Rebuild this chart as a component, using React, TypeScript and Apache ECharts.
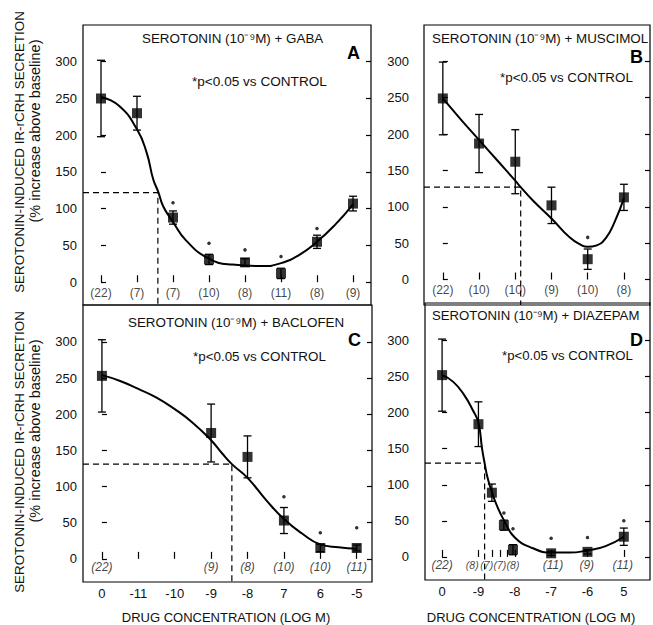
import React, { useEffect, useRef } from 'react';
import * as echarts from 'echarts';

const FONT = '"Liberation Sans", Arial, Helvetica, sans-serif';

// ---------- Panel A : GABA ----------
const aPos = [0, 1, 2, 3, 4, 5, 6, 7];
const aMean = [250, 230, 88, 31, 27, 12, 55, 107];
const aSem = [52, 23, 9, 7, 5, 7, 9, 10];
const aStar = [null, null, 108, 53, 44, 35, 73, null];
const aN = ['(22)', '(7)', '(7)', '(10)', '(8)', '(11)', '(8)', '(9)'];
const aNPos = [0, 1, 2, 3, 4, 5, 6, 7];
const aNSize = [12, 12, 12, 12, 12, 12, 12, 12];
const aCurveX = [0, 0.5, 1, 1.27, 1.45, 1.59, 1.73, 2, 2.36, 3, 3.65, 4.5, 5, 5.5, 6, 6.5, 7];
const aCurveY = [252, 240, 208, 176, 140, 123, 103, 82, 57, 32, 24, 22, 26, 37, 55, 78, 106];
const aHalf = [1.58, 122];

// ---------- Panel B : MUSCIMOL ----------
const bPos = [0, 1, 2, 3, 4, 5];
const bMean = [249, 187, 162, 102, 28, 113];
const bSem = [50, 40, 44, 25, 14, 18];
const bStar = [null, null, null, null, 58, null];
const bN = ['(22)', '(10)', '(10)', '(9)', '(10)', '(8)'];
const bNPos = [0, 1, 2, 3, 4, 5];
const bNSize = [12, 12, 12, 12, 12, 12];
const bCurveX = [0, 0.5, 1, 1.5, 2, 2.15, 2.5, 3, 3.5, 3.8, 4, 4.25, 4.5, 4.75, 5];
const bCurveY = [249, 220, 192, 164, 136, 127, 108, 84, 58, 48, 45, 47, 57, 80, 112];
const bHalf = [2.15, 127];

// ---------- Panel C : BACLOFEN ----------
const cPos = [0, 3, 4, 5, 6, 7];
const cMean = [253, 174, 141, 53, 15, 15];
const cSem = [50, 40, 29, 18, 5, 4];
const cStar = [null, null, null, 86, 36, 43];
const cN = ['(22)', '(9)', '(8)', '(10)', '(10)', '(11)'];
const cNPos = [0, 3, 4, 5, 6, 7];
const cNSize = [12, 12, 12, 12, 12, 12];
const cCurveX = [0, 0.5, 1, 1.5, 2, 2.5, 3, 3.3, 3.57, 4, 4.5, 5, 5.5, 6, 6.5, 7];
const cCurveY = [254, 246, 235, 223, 207, 188, 164, 146, 131, 112, 82, 55, 35, 20, 16, 14];
const cHalf = [3.57, 131];
const cTicks = [0, 1, 2, 3, 4, 5, 6, 7];
const cTickLabels = ['0', '-11', '-10', '-9', '-8', '7', '6', '-5'];

// ---------- Panel D : DIAZEPAM ----------
const dPos = [0, 1, 1.37, 1.7, 1.95, 3, 4, 5];
const dMean = [252, 184, 89, 44, 10, 5, 7, 28];
const dSem = [50, 31, 12, 7, 7, 3, 3, 12];
const dStar = [null, null, null, 61, 39, 26, 27, 50];
const dN = ['(22)', '(8)', '(7)', '(7)', '(8)', '(11)', '(9)', '(11)'];
const dNPos = [0, 0.83, 1.23, 1.59, 1.95, 3.05, 3.98, 4.97];
const dNSize = [12, 10.5, 10.5, 10.5, 10.5, 12, 12, 12];
const dCurveX = [0, 0.3, 0.6, 0.85, 1, 1.1, 1.17, 1.25, 1.37, 1.5, 1.7, 2, 2.5, 3, 3.5, 4, 4.5, 5];
const dCurveY = [252, 243, 225, 203, 186, 150, 130, 110, 90, 72, 51, 27, 12, 6, 6, 9, 15, 28];
const dHalf = [1.17, 130];
const dTicks = [0, 1, 1.37, 1.59, 1.78, 2, 3, 4, 5];
const dLabelPos = [0, 1, 2, 3, 4, 5];
const dTickLabels = ['0', '-9', '-8', '-7', '-6', '5'];

const yTicks = [0, 50, 100, 150, 200, 250, 300];

type Panel = {
  pos: number[]; mean: number[]; sem: number[]; star: (number | null)[];
  n: string[]; nPos: number[]; nSize: number[]; curveX: number[]; curveY: number[]; half: number[];
  left: number; top: number; width: number; height: number;
  xMin: number; xMax: number; yMin: number; yMax: number;
  ticks: number[]; labelPos?: number[]; labels?: string[];
  yMargin: number; italic: boolean; nY: number;
};

const panels: Panel[] = [
  {
    pos: aPos, mean: aMean, sem: aSem, star: aStar, n: aN, nPos: aNPos, nSize: aNSize,
    curveX: aCurveX, curveY: aCurveY, half: aHalf,
    left: 83, top: 25, width: 288, height: 280,
    xMin: -0.5, xMax: 7.5, yMin: -31, yMax: 350,
    ticks: aPos, yMargin: 6, italic: false, nY: -14,
  },
  {
    pos: bPos, mean: bMean, sem: bSem, star: bStar, n: bN, nPos: bNPos, nSize: bNSize,
    curveX: bCurveX, curveY: bCurveY, half: bHalf,
    left: 424, top: 25, width: 226, height: 280,
    xMin: -0.52, xMax: 5.72, yMin: -35, yMax: 350,
    ticks: bPos, yMargin: 15, italic: false, nY: -15,
  },
  {
    pos: cPos, mean: cMean, sem: cSem, star: cStar, n: cN, nPos: cNPos, nSize: cNSize,
    curveX: cCurveX, curveY: cCurveY, half: cHalf,
    left: 83, top: 305, width: 289, height: 277,
    xMin: -0.52, xMax: 7.42, yMin: -32, yMax: 351,
    ticks: cTicks, labelPos: cTicks, labels: cTickLabels,
    yMargin: 6, italic: true, nY: -11,
  },
  {
    pos: dPos, mean: dMean, sem: dSem, star: dStar, n: dN, nPos: dNPos, nSize: dNSize,
    curveX: dCurveX, curveY: dCurveY, half: dHalf,
    left: 425, top: 303, width: 225, height: 277,
    xMin: -0.47, xMax: 5.72, yMin: -32, yMax: 352,
    ticks: dTicks, labelPos: dLabelPos, labels: dTickLabels,
    yMargin: 16, italic: true, nY: -11,
  },
];

const texts = [
  { t: 'SEROTONIN (10⁻⁹M) + GABA', x: 142, y: 38, s: 13.4 },
  { t: '*p<0.05 vs CONTROL', x: 192, y: 81, s: 13.6 },
  { t: 'SEROTONIN (10⁻⁹M) + MUSCIMOL', x: 432, y: 38, s: 13.4 },
  { t: '*p<0.05 vs CONTROL', x: 500, y: 77, s: 13.4 },
  { t: 'SEROTONIN (10⁻⁹M) + BACLOFEN', x: 128, y: 322, s: 13.4 },
  { t: '*p<0.05 vs CONTROL', x: 193, y: 356, s: 13.4 },
  { t: 'SEROTONIN (10⁻⁹M) + DIAZEPAM', x: 432, y: 315, s: 13.2 },
  { t: '*p<0.05 vs CONTROL', x: 502, y: 355, s: 13.2 },
];

const letters = [
  { t: 'A', x: 347, y: 53 },
  { t: 'B', x: 630, y: 57 },
  { t: 'C', x: 348, y: 340 },
  { t: 'D', x: 630, y: 340 },
];

export default function App() {
  const ref = useRef<HTMLDivElement>(null);
  useEffect(() => {
    if (!ref.current) return;
    const chart = echarts.init(ref.current, undefined, { renderer: 'svg' });

    const grid: any[] = [];
    const xAxis: any[] = [];
    const yAxis: any[] = [];
    const series: any[] = [];

    panels.forEach((p, i) => {
      grid.push({
        left: p.left, top: p.top, width: p.width, height: p.height,
        show: true, borderColor: '#000', borderWidth: 1.2, backgroundColor: 'transparent',
      });
      xAxis.push({
        type: 'value', gridIndex: i, min: p.xMin, max: p.xMax,
        axisLine: { show: false },
        splitLine: { show: false },
        axisTick: { show: true, inside: true, length: 7, customValues: p.ticks, lineStyle: { color: '#000', width: 1.2 } },
        axisLabel: p.labels
          ? {
              show: true, customValues: p.labelPos, margin: 5,
              fontFamily: FONT, fontSize: 13, color: '#111',
              formatter: (v: number) => {
                const k = (p.labelPos as number[]).findIndex((q) => Math.abs(q - v) < 1e-6);
                return k >= 0 ? (p.labels as string[])[k] : '';
              },
            }
          : { show: false },
      });
      yAxis.push({
        type: 'value', gridIndex: i, min: p.yMin, max: p.yMax,
        axisLine: { show: false }, splitLine: { show: false },
        axisTick: { show: true, inside: true, length: 5, customValues: yTicks, lineStyle: { color: '#000', width: 1.2 } },
        axisLabel: { show: true, customValues: yTicks, margin: p.yMargin, fontFamily: FONT, fontSize: 13, color: '#111' },
      });
      yAxis.push({
        type: 'value', gridIndex: i, min: p.yMin, max: p.yMax, position: 'right',
        axisLine: { show: false }, splitLine: { show: false },
        axisTick: { show: true, inside: true, length: 5, customValues: yTicks, lineStyle: { color: '#000', width: 1.2 } },
        axisLabel: { show: false },
      });
      const xi = i, yi = i * 2;
      series.push({
        type: 'line', xAxisIndex: xi, yAxisIndex: yi, smooth: true, symbol: 'none',
        data: p.curveX.map((x, k) => [x, p.curveY[k]]),
        lineStyle: { color: '#000', width: 2 }, z: 3,
      });
      series.push({
        type: 'line', xAxisIndex: xi, yAxisIndex: yi, symbol: 'none',
        data: [[p.xMin, p.half[1]], [p.half[0], p.half[1]], [p.half[0], p.yMin]],
        lineStyle: { color: '#000', width: 1.2, type: [6, 4] }, z: 2,
      });
      series.push({
        type: 'custom', xAxisIndex: xi, yAxisIndex: yi,
        data: p.pos.map((x, k) => [x, p.mean[k] - p.sem[k], p.mean[k] + p.sem[k]]),
        encode: { x: 0, y: [1, 2] },
        renderItem: (_params: any, api: any) => {
          const x = api.value(0);
          const lo = api.coord([x, api.value(1)]);
          const hi = api.coord([x, api.value(2)]);
          const w = 4;
          const st = { stroke: '#000', lineWidth: 1.3 };
          return {
            type: 'group',
            children: [
              { type: 'line', shape: { x1: lo[0], y1: lo[1], x2: hi[0], y2: hi[1] }, style: st },
              { type: 'line', shape: { x1: lo[0] - w, y1: lo[1], x2: lo[0] + w, y2: lo[1] }, style: st },
              { type: 'line', shape: { x1: hi[0] - w, y1: hi[1], x2: hi[0] + w, y2: hi[1] }, style: st },
            ],
          };
        },
        z: 4,
      });
      series.push({
        type: 'scatter', xAxisIndex: xi, yAxisIndex: yi, symbol: 'rect', symbolSize: 10,
        data: p.pos.map((x, k) => [x, p.mean[k]]),
        itemStyle: { color: '#000' }, z: 5,
      });
      series.push({
        type: 'scatter', xAxisIndex: xi, yAxisIndex: yi, symbol: 'circle', symbolSize: 3.5,
        data: p.pos.map((x, k) => (p.star[k] == null ? null : [x, p.star[k]])).filter((d) => d),
        itemStyle: { color: '#000' }, z: 5,
      });
      series.push({
        type: 'scatter', xAxisIndex: xi, yAxisIndex: yi, symbol: 'rect', symbolSize: 1,
        data: p.nPos.map((x, k) => ({ value: [x, p.nY, p.n[k]], label: { fontSize: p.nSize[k] } })),
        itemStyle: { color: 'rgba(0,0,0,0)' },
        label: {
          show: true, position: 'inside', formatter: (q: any) => q.value[2],
          fontFamily: FONT, fontSize: 12, color: '#111', fontStyle: p.italic ? 'italic' : 'normal',
        },
        z: 5,
      });
    });

    const graphic: any[] = [];
    texts.forEach((t) => {
      graphic.push({
        type: 'text', x: t.x, y: t.y,
        style: { text: t.t, font: `${t.s}px ${FONT}`, fill: '#111', textAlign: 'left', textVerticalAlign: 'middle' },
      });
    });
    letters.forEach((t) => {
      graphic.push({
        type: 'text', x: t.x, y: t.y,
        style: { text: t.t, font: `bold 18px ${FONT}`, fill: '#000', textAlign: 'left', textVerticalAlign: 'middle' },
      });
    });
    [152, 452].forEach((cy) => {
      graphic.push({
        type: 'text', x: 19, y: cy, rotation: Math.PI / 2,
        style: { text: 'SEROTONIN-INDUCED IR-rCRH SECRETION', font: `13.4px ${FONT}`, fill: '#111', textAlign: 'center', textVerticalAlign: 'middle' },
      });
      graphic.push({
        type: 'text', x: 35, y: cy - 21, rotation: Math.PI / 2,
        style: { text: '(% increase above baseline)', font: `14.5px ${FONT}`, fill: '#111', textAlign: 'center', textVerticalAlign: 'middle' },
      });
    });
    [226, 531].forEach((cx) => {
      graphic.push({
        type: 'text', x: cx, y: 617,
        style: { text: 'DRUG CONCENTRATION (LOG M)', font: `13px ${FONT}`, fill: '#111', textAlign: 'center', textVerticalAlign: 'middle' },
      });
    });

    chart.setOption({
      animation: false,
      backgroundColor: '#fff',
      grid, xAxis, yAxis, series, graphic,
    });
    return () => chart.dispose();
  }, []);
  return <div ref={ref} style={{ position: 'fixed', left: 0, top: 0, width: 653, height: 625 }} />;
}
